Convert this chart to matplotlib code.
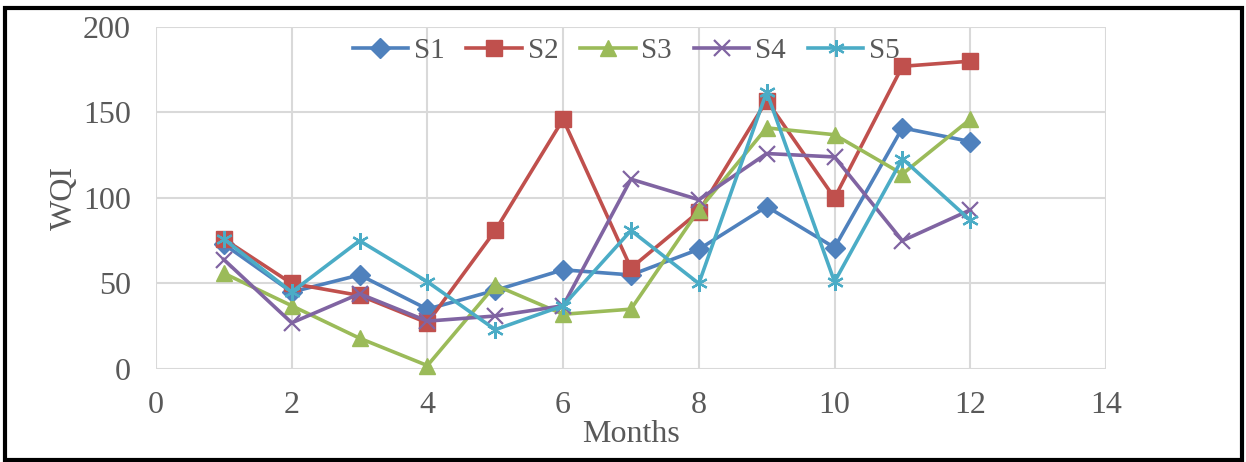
import matplotlib.pyplot as plt
from matplotlib.patches import Rectangle

months = [1, 2, 3, 4, 5, 6, 7, 8, 9, 10, 11, 12]
s1 = [73, 45, 55, 35, 46, 58, 55, 70, 95, 71, 141, 133]
s2 = [76, 50, 43, 27, 81, 146, 59, 92, 157, 100, 177, 180]
s3 = [56, 37, 18, 2, 49, 32, 35, 93, 141, 137, 114, 146]
s4 = [64, 27, 44, 28, 31, 37, 111, 99, 126, 124, 75, 93]
s5 = [76, 45, 75, 51, 23, 37, 81, 50, 162, 51, 123, 87]

series = [
    ('S1', s1, '#4F81BD', 'D', 10),
    ('S2', s2, '#C0504D', 's', 12),
    ('S3', s3, '#9BBB59', '^', 12),
    ('S4', s4, '#8064A2', 'x', 11),
    ('S5', s5, '#4BACC6', (6, 2, 0), 12),
]

plt.rcParams['font.family'] = ['Liberation Serif', 'DejaVu Serif']
text_color = '#595959'

fig = plt.figure(figsize=(12.46, 4.62), dpi=100)
ax = fig.add_axes([0.1252, 0.2013, 0.7624, 0.7403])

for name, vals, color, marker, ms in series:
    mew = 1.6 if marker in ('x', (6, 2, 0)) else 1
    ax.plot(months, vals, color=color, linewidth=2.6, marker=marker,
            markersize=ms, markeredgewidth=mew, markeredgecolor=color,
            label=name, clip_on=False, zorder=3)

ax.set_xlim(0, 14)
ax.set_ylim(0, 200)
ax.set_xticks(range(0, 15, 2))
ax.set_yticks(range(0, 201, 50))
ax.grid(True, color='#D9D9D9', linewidth=1.5)
ax.set_axisbelow(True)
for sp in ax.spines.values():
    sp.set_visible(False)
ax.tick_params(length=0, labelsize=23, colors=text_color)
ax.tick_params(axis='x', pad=16)
ax.tick_params(axis='y', pad=18)

ax.set_xlabel('Months', fontsize=23, color=text_color, labelpad=0)
ax.set_ylabel('WQI', fontsize=23, color=text_color, labelpad=3)

leg = ax.legend(loc='upper center', bbox_to_anchor=(0.495, 1.045), ncol=5,
                frameon=False, fontsize=21, handlelength=1.9,
                handletextpad=0.2, columnspacing=0.75, labelcolor=text_color)

# black frame around the whole figure
fig.patches.append(Rectangle((0.004, 0.004), 0.993, 0.978, transform=fig.transFigure,
                             fill=False, edgecolor='black', linewidth=3))

fig.savefig('out.png', dpi=100)
